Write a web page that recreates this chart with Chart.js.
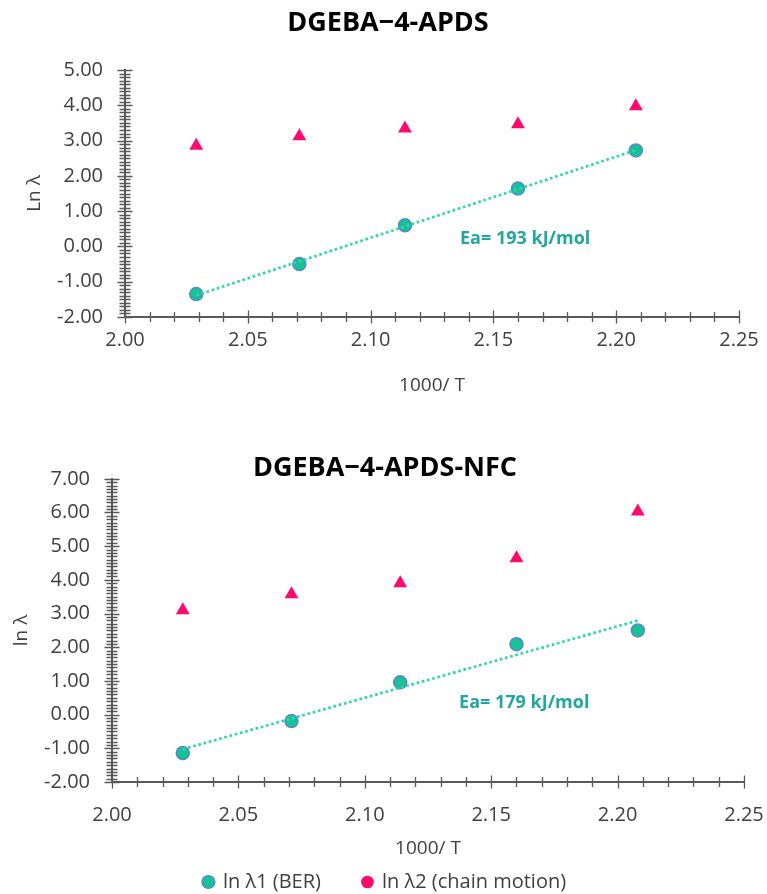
<!DOCTYPE html>
<html>
<head>
<meta charset="utf-8">
<script src="https://cdn.jsdelivr.net/npm/chart.js@4.4.1/dist/chart.umd.min.js"></script>
<style>
  html, body { margin: 0; padding: 0; background: #fff; overflow: hidden; }
  #topChart { position: absolute; left: 0; top: 0; }
  #bottomChart { position: absolute; left: 0; top: 400px; }
</style>
</head>
<body>
<canvas id="topChart" width="767" height="400"></canvas>
<canvas id="bottomChart" width="767" height="502"></canvas>
<script>
// 1000/T values
var invT = [2.029, 2.071, 2.114, 2.160, 2.208];
var invTNfc = [2.028, 2.071, 2.114, 2.160, 2.208];

// ln lambda1 (BER) and ln lambda2 (chain motion), DGEBA-4-APDS
var lnL1 = [-1.35, -0.50, 0.60, 1.64, 2.72];
var lnL2 = [2.85, 3.12, 3.34, 3.46, 3.97];

// same for DGEBA-4-APDS-NFC
var lnL1Nfc = [-1.14, -0.19, 0.96, 2.09, 2.50];
var lnL2Nfc = [3.10, 3.57, 3.90, 4.64, 6.03];

// axis ticks
var xTicks = [2.00, 2.05, 2.10, 2.15, 2.20, 2.25];
var yTicksTop = [-2, -1, 0, 1, 2, 3, 4, 5];
var yTicksBottom = [-2, -1, 0, 1, 2, 3, 4, 5, 6, 7];

var seriesNames = ['ln λ1 (BER)', 'ln λ2 (chain motion)'];
var eaLabels = ['Ea= 193 kJ/mol', 'Ea= 179 kJ/mol'];

var AXIS = '#595959';
var TEXT = '#404040';
var BER_FILL = '#17c295';
var BER_EDGE = '#5b86d6';
var CHAIN = '#ff0a6c';
var TREND = '#2fd7ab';

Chart.defaults.font.family = "'Open Sans', sans-serif";
Chart.defaults.color = TEXT;

// least squares line between first and last x
function linFit(xs, ys) {
    var n = xs.length, mx = 0, my = 0;
    for (var i = 0; i < n; i++) { mx += xs[i]; my += ys[i]; }
    mx /= n; my /= n;
    var sxy = 0, sxx = 0;
    for (var j = 0; j < n; j++) {
        sxy += (xs[j] - mx) * (ys[j] - my);
        sxx += (xs[j] - mx) * (xs[j] - mx);
    }
    var b = sxy / sxx, a = my - b * mx;
    return [{x: xs[0], y: a + b * xs[0]}, {x: xs[n - 1], y: a + b * xs[n - 1]}];
}

function pts(xs, ys) {
    return xs.map(function(x, i) { return {x: x, y: ys[i]}; });
}

// Excel-like crossing ticks, major + minor
var crossTicks = {
    id: 'crossTicks',
    beforeDatasetsDraw: function(chart, args, opts) {
        var ctx = chart.ctx, xs = chart.scales.x, ys = chart.scales.y;
        var area = chart.chartArea;
        ctx.save();
        ctx.strokeStyle = AXIS;
        ctx.lineWidth = 1.3;
        ctx.beginPath();
        for (var i = 0; i < xTicks.length; i++) {
            var px = Math.round(xs.getPixelForValue(xTicks[i])) + 0.5;
            ctx.moveTo(px, area.bottom - 6.5); ctx.lineTo(px, area.bottom + 6.5);
            if (i < xTicks.length - 1) {
                for (var k = 1; k < 5; k++) {
                    var v = xTicks[i] + k * (xTicks[i + 1] - xTicks[i]) / 5;
                    var p = Math.round(xs.getPixelForValue(v)) + 0.5;
                    ctx.moveTo(p, area.bottom - 5); ctx.lineTo(p, area.bottom + 5);
                }
            }
        }
        var yt = opts.yTicks;
        for (var j = 0; j < yt.length; j++) {
            var py = Math.round(ys.getPixelForValue(yt[j])) + 0.5;
            ctx.moveTo(area.left - 7.5, py); ctx.lineTo(area.left + 7.5, py);
            if (j < yt.length - 1) {
                for (var m = 1; m < 10; m++) {
                    var w = yt[j] + m * (yt[j + 1] - yt[j]) / 10;
                    var q = Math.round(ys.getPixelForValue(w)) + 0.5;
                    ctx.moveTo(area.left - 5.5, q); ctx.lineTo(area.left + 5.5, q);
                }
            }
        }
        ctx.stroke();
        ctx.restore();
    }
};

// activation energy label, anchored in data space
var eaNote = {
    id: 'eaNote',
    afterDatasetsDraw: function(chart, args, opts) {
        var ctx = chart.ctx;
        ctx.save();
        ctx.font = "bold 18px 'Open Sans', sans-serif";
        ctx.fillStyle = '#22a7a0';
        ctx.textAlign = 'left';
        ctx.textBaseline = 'middle';
        ctx.fillText(opts.text, chart.scales.x.getPixelForValue(opts.x), chart.scales.y.getPixelForValue(opts.y));
        ctx.restore();
    }
};

function makeChart(el, cfg) {
    return new Chart(el, {
        type: 'scatter',
        data: {
            datasets: [
                {
                    label: 'trend',
                    data: linFit(cfg.x, cfg.l1),
                    showLine: true,
                    borderColor: TREND,
                    borderWidth: 2.7,
                    borderDash: [2.7, 2.7],
                    borderCapStyle: 'butt',
                    pointRadius: 0,
                    fill: false
                },
                {
                    label: seriesNames[0],
                    data: pts(cfg.x, cfg.l1),
                    pointStyle: 'circle',
                    pointRadius: 6.5,
                    backgroundColor: BER_FILL,
                    borderColor: BER_EDGE,
                    borderWidth: 1.5
                },
                {
                    label: seriesNames[1],
                    data: pts(cfg.x, cfg.l2),
                    pointStyle: 'triangle',
                    pointRadius: 8,
                    backgroundColor: CHAIN,
                    borderColor: CHAIN,
                    borderWidth: 0
                }
            ]
        },
        options: {
            responsive: false,
            animation: false,
            devicePixelRatio: 1,
            layout: { padding: cfg.padding },
            plugins: {
                title: {
                    display: true,
                    text: cfg.title,
                    color: '#000',
                    font: { size: 27, weight: 'bold', lineHeight: cfg.titleLH },
                    padding: cfg.titlePad
                },
                legend: {
                    display: cfg.legend,
                    position: 'bottom',
                    labels: {
                        usePointStyle: true,
                        pointStyle: 'circle',
                        boxWidth: 9,
                        boxHeight: 9,
                        padding: 42,
                        color: TEXT,
                        font: { size: 20 },
                        filter: function(item) { return item.datasetIndex > 0; }
                    }
                },
                tooltip: { enabled: false },
                crossTicks: { yTicks: cfg.yTicks },
                eaNote: cfg.note
            },
            scales: {
                x: {
                    type: 'linear',
                    min: xTicks[0],
                    max: xTicks[xTicks.length - 1],
                    afterBuildTicks: function(s) { s.ticks = xTicks.map(function(v) { return {value: v}; }); },
                    afterFit: function(s) {
                        s.height = cfg.xHeight;
                        s.paddingLeft = 0;
                        s.paddingRight = 0;
                    },
                    grid: { display: true, drawOnChartArea: false, drawTicks: false },
                    border: { display: true, color: AXIS, width: 2 },
                    ticks: {
                        padding: cfg.xPad,
                        font: { size: 20 },
                        color: TEXT,
                        callback: function(v) { return Number(v).toFixed(2); }
                    },
                    title: {
                        display: true,
                        text: '1000/ T',
                        color: TEXT,
                        font: { size: 19 },
                        padding: { top: 0, bottom: cfg.xTitlePad }
                    }
                },
                y: {
                    type: 'linear',
                    min: cfg.yTicks[0],
                    max: cfg.yTicks[cfg.yTicks.length - 1],
                    afterBuildTicks: function(s) { s.ticks = cfg.yTicks.map(function(v) { return {value: v}; }); },
                    afterFit: function(s) { s.width = cfg.yWidth; },
                    grid: { display: true, drawOnChartArea: false, drawTicks: false },
                    border: { display: true, color: AXIS, width: 2 },
                    ticks: {
                        padding: 22,
                        font: { size: 20 },
                        color: TEXT,
                        callback: function(v) { return Number(v).toFixed(2); }
                    },
                    title: {
                        display: true,
                        text: cfg.yTitle,
                        color: TEXT,
                        font: { size: 19 },
                        padding: { top: cfg.yTitlePad, bottom: 0 }
                    }
                }
            }
        },
        plugins: [crossTicks, eaNote]
    });
}

makeChart(document.getElementById('topChart'), {
    title: 'DGEBA\u22124-APDS',
    x: invT, l1: lnL1, l2: lnL2,
    yTicks: yTicksTop,
    yTitle: 'Ln λ',
    padding: { left: 37, right: 28, top: 0, bottom: 0 },
    titleLH: 1.2,
    titlePad: { top: 6.8, bottom: 30.8 },
    xHeight: 83, xPad: 11, xTitlePad: 2.6,
    yWidth: 88, yTitlePad: -13.4,
    legend: false,
    note: { text: eaLabels[0], x: 2.1364, y: 0.2 }
});

makeChart(document.getElementById('bottomChart'), {
    title: 'DGEBA\u22124-APDS-NFC',
    x: invTNfc, l1: lnL1Nfc, l2: lnL2Nfc,
    yTicks: yTicksBottom,
    yTitle: 'ln λ',
    padding: { left: 26, right: 23, top: 0, bottom: 0 },
    titleLH: 0.8,
    titlePad: { top: 57.2, bottom: 0 },
    xHeight: 48, xPad: 21, xTitlePad: -30.4,
    yWidth: 86, yTitlePad: -15.4,
    legend: true,
    note: { text: eaLabels[1], x: 2.1373, y: 0.34 }
});
</script>
</body>
</html>
